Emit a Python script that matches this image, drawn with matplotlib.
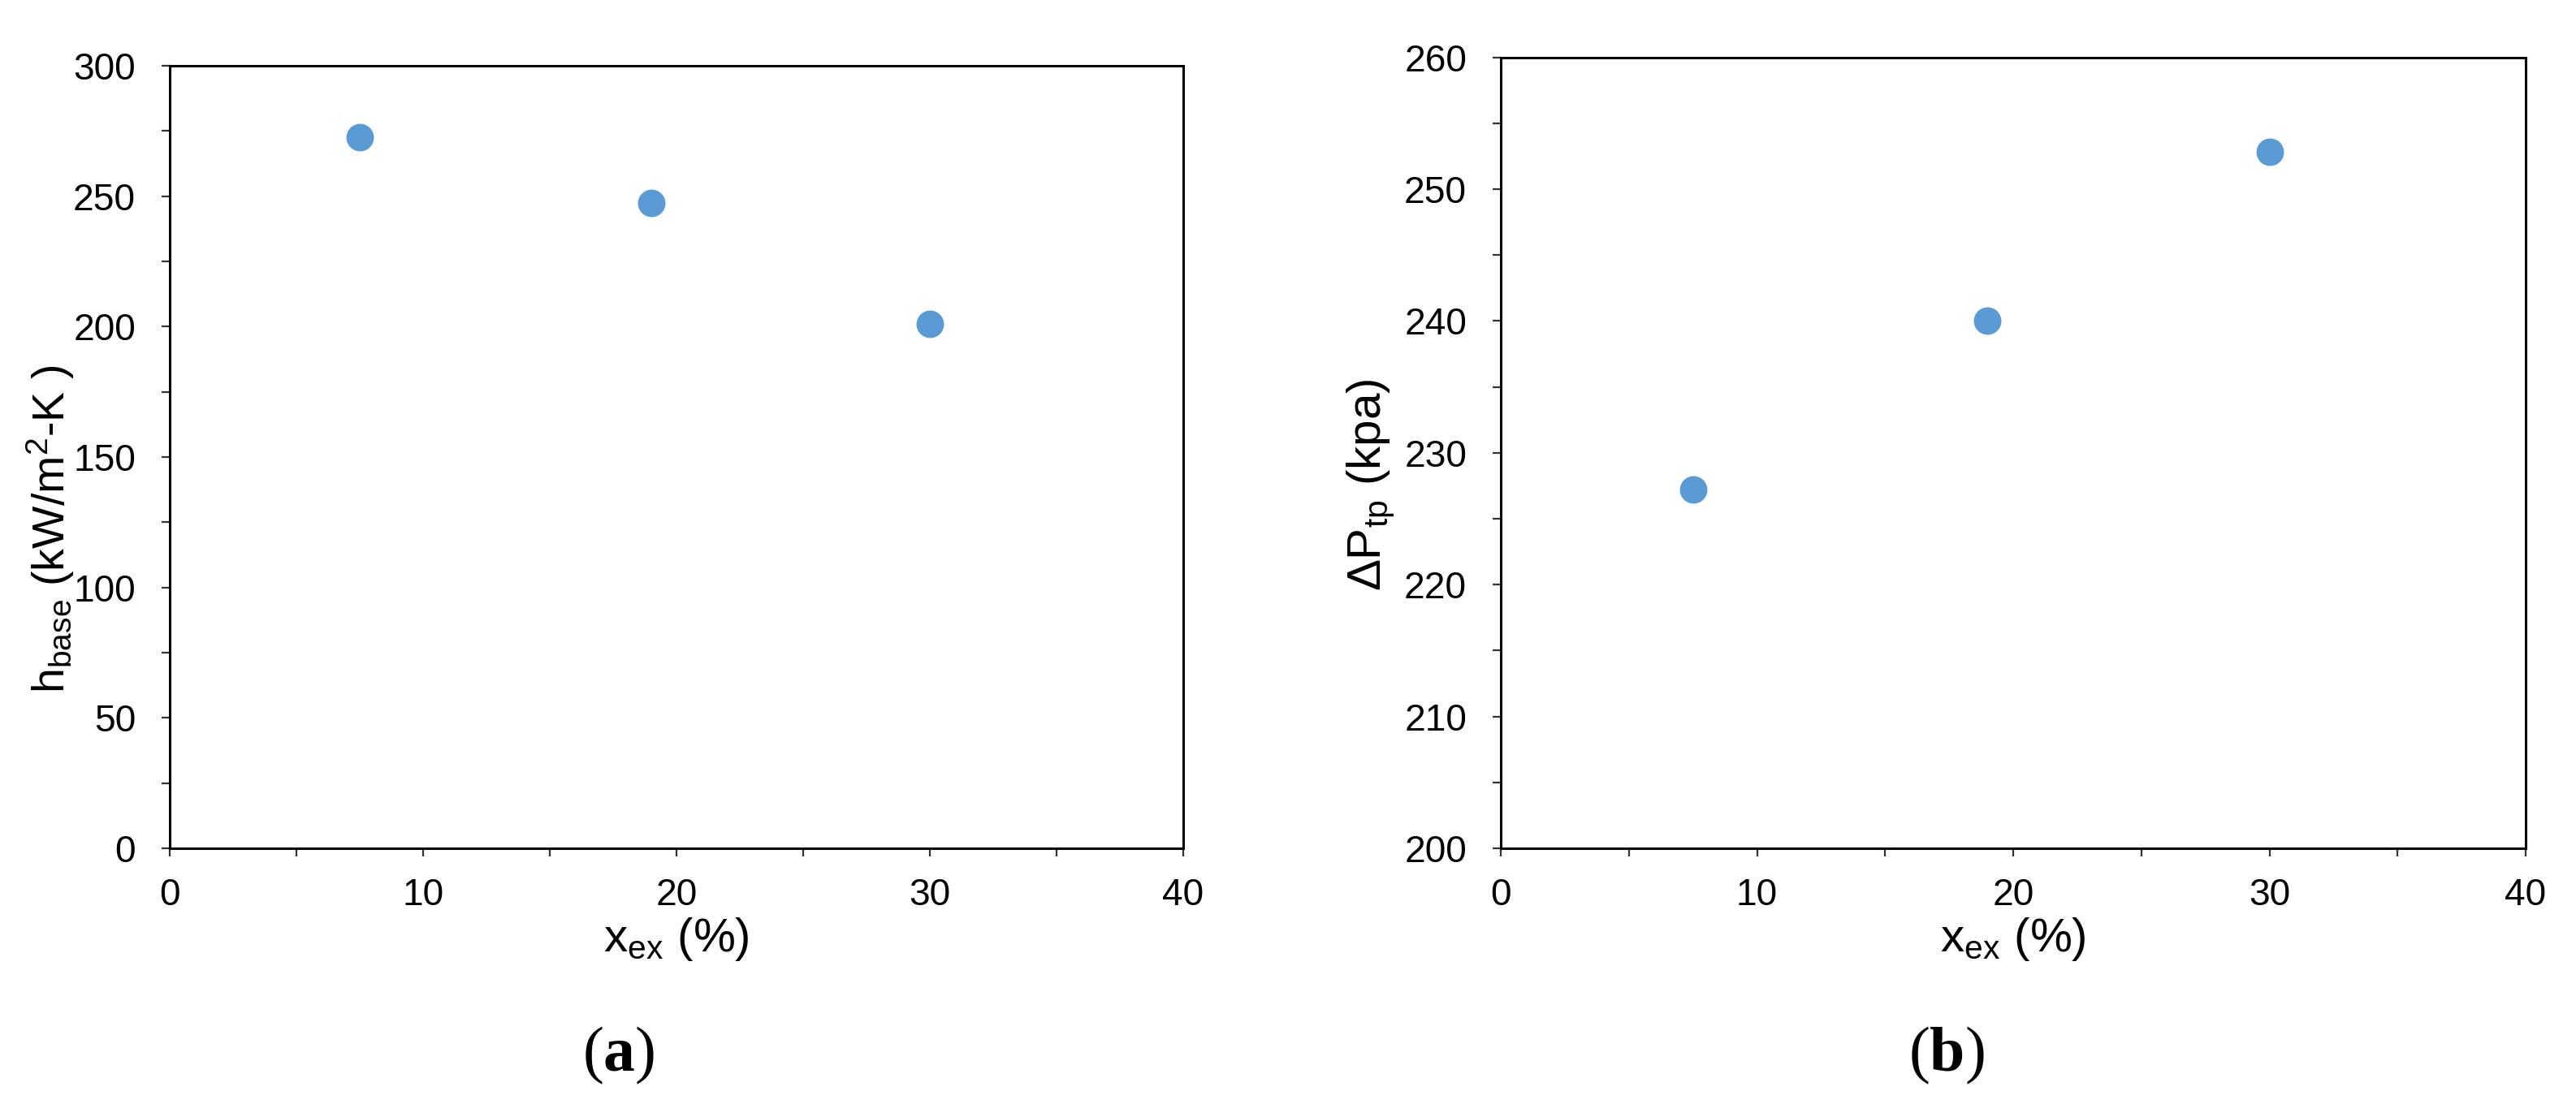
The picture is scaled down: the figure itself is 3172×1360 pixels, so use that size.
import numpy as np
import matplotlib
matplotlib.use("Agg")
import matplotlib.pyplot as plt
from matplotlib.ticker import MultipleLocator

plt.rcParams['font.family'] = ['Liberation Sans', 'DejaVu Sans']
plt.rcParams['mathtext.fontset'] = 'custom'
plt.rcParams['mathtext.rm'] = 'Liberation Sans'
plt.rcParams['mathtext.it'] = 'Liberation Sans:italic'
plt.rcParams['mathtext.bf'] = 'Liberation Serif:bold'

# data
x_ex = [7.5, 19.0, 30.0]
h_base = [272.5, 247.5, 201.0]
dp_tp = [227.2, 240.0, 252.8]

marker_color = '#5B9BD5'
W, H, DPI = 3172, 1360, 200

fig = plt.figure(figsize=(W / DPI, H / DPI), dpi=DPI)

# axes boxes in pixels (left, top, right, bottom)
boxes = [(209, 81, 1457, 1045), (1848, 70.5, 3110, 1045)]
axes = []
for l, t, r, b in boxes:
    ax = fig.add_axes([l / W, 1 - b / H, (r - l) / W, (b - t) / H])
    axes.append(ax)


def style_axis(ax, ymin, ymax, ymajor, yminor):
    ax.set_xlim(0, 40)
    ax.set_ylim(ymin, ymax)
    ax.xaxis.set_major_locator(MultipleLocator(10))
    ax.xaxis.set_minor_locator(MultipleLocator(5))
    ax.yaxis.set_major_locator(MultipleLocator(ymajor))
    ax.yaxis.set_minor_locator(MultipleLocator(yminor))
    for s in ax.spines.values():
        s.set_linewidth(1.1)
        s.set_color('black')
    ax.tick_params(which='both', direction='out', length=3.6, width=0.8, color='#333333')
    ax.tick_params(axis='x', which='major', labelsize=16.6, pad=9.5)
    ax.tick_params(axis='y', which='major', labelsize=16.6, pad=11.5)


ax1, ax2 = axes

ax1.plot(x_ex, h_base, 'o', ms=12.2, color=marker_color, mec='none', clip_on=False)
style_axis(ax1, 0, 300, 50, 25)
ax1.set_xlabel(r'x$_{\mathregular{ex}}$ (%)', fontsize=21, labelpad=1)
ax1.set_ylabel(r'h$_{\mathregular{base}}$ (kW/m$^{\mathregular{2}}$-K )', fontsize=20)
ax1.yaxis.set_label_coords(-0.092, 0.408)

ax2.plot(x_ex, dp_tp, 'o', ms=12.2, color=marker_color, mec='none', clip_on=False)
style_axis(ax2, 200, 260, 10, 5)
ax2.set_xlabel(r'x$_{\mathregular{ex}}$ (%)', fontsize=21, labelpad=1)
ax2.set_ylabel(r'ΔP$_{\mathregular{tp}}$ (kpa)', fontsize=21)
ax2.yaxis.set_label_coords(-0.102, 0.46)

fig.text(762 / W, 1 - 1300 / H, r'($\mathbf{a}$)', fontsize=28, family='Liberation Serif',
         ha='center', va='center')
fig.text(2397 / W, 1 - 1300 / H, r'($\mathbf{b}$)', fontsize=28, family='Liberation Serif',
         ha='center', va='center')

fig.savefig('out.png', dpi=DPI, facecolor='white')
